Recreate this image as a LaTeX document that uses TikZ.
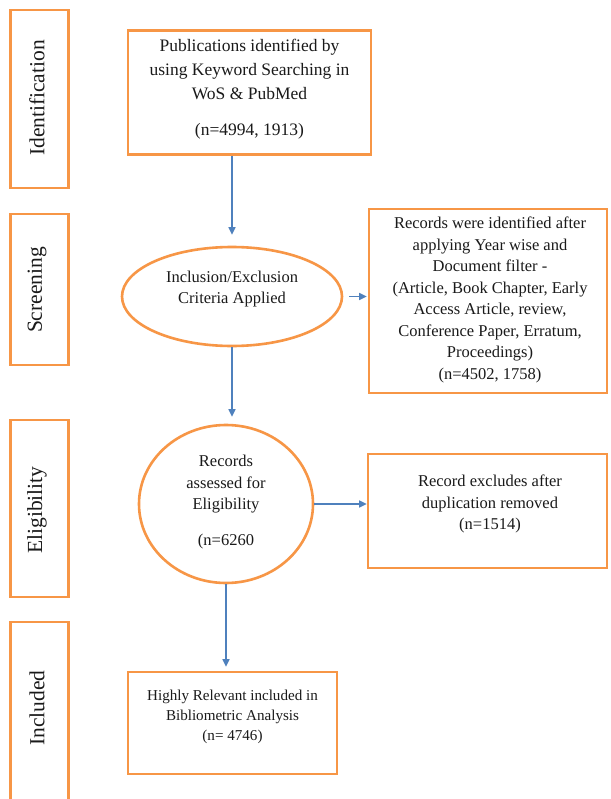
\documentclass[tikz,border=0pt]{standalone}
\usepackage{fontspec}
\setmainfont{Liberation Serif}
\usetikzlibrary{arrows.meta,shapes.geometric}
\definecolor{boxorange}{HTML}{F79646}
\definecolor{arrowblue}{HTML}{4F81BD}
\definecolor{txt}{HTML}{1A1A1A}
\begin{document}
\begin{tikzpicture}[x=1pt,y=-1pt,
  phase/.style={draw=boxorange,line width=2.6pt,minimum width=58pt,inner sep=0pt},
  phasetext/.style={rotate=90,text=txt,font=\fontsize{21.5}{24}\selectfont},
  obox/.style={draw=boxorange,line width=2.6pt,inner sep=0pt},
  oell/.style={draw=boxorange,line width=2.6pt,ellipse,inner sep=0pt},
  btext/.style={align=center,text=txt,font=\fontsize{16.5}{21.5}\selectfont},
  flow/.style={draw=arrowblue,line width=1.1pt,-{Triangle[length=7.5pt,width=7pt]}}]
\useasboundingbox (0,0) rectangle (610,799);
\fill[white] (0,0) rectangle (610,799);
% phase boxes
\node[phase,minimum height=178pt] (pid) at (39.5,99) {};
\node[phasetext] (lid) at (37,98) {Identification};
\node[phase,minimum height=151pt] (psc) at (39.5,289.5) {};
\node[phasetext] (lsc) at (37,290) {Screening};
\node[phase,minimum height=177pt] (pel) at (39.5,508.5) {};
\node[phasetext] (lel) at (37,510) {Eligibility};
\node[phase,minimum height=190pt] (pin) at (39.5,717) {};
\node[phasetext] (lin) at (37,708) {Included};
% box 1
\node[obox,minimum width=243pt,minimum height=124pt] (box1) at (249.5,92.5) {};
\node[btext,font=\fontsize{17.5}{24}\selectfont] (t1) at (249.5,89) {Publications identified by\\using Keyword Searching in\\WoS \& PubMed\\[12pt](n=4994, 1913)};
% ellipse 1
\node[oell,minimum width=220pt,minimum height=99pt] (ell) at (232,296.5) {};
\node[btext] (tell) at (232,289) {Inclusion/Exclusion\\Criteria Applied};
% box 2
\node[obox,minimum width=238pt,minimum height=184pt] (box2) at (488,301) {};
\node[btext] (t2) at (490,300) {Records were identified after\\applying Year wise and\\Document filter -\\(Article, Book Chapter, Early\\Access Article, review,\\Conference Paper, Erratum,\\Proceedings)\\(n=4502, 1758)};
% circle
\node[oell,minimum width=174pt,minimum height=158pt] (circ) at (226,504) {};
\node[btext] (tc) at (226,502) {Records\\assessed for\\Eligibility\\[14pt](n=6260};
% box 3
\node[obox,minimum width=239pt,minimum height=114pt] (box3) at (487.5,511) {};
\node[btext] (t3) at (490,504) {Record excludes after\\duplication removed\\(n=1514)};
% box 4
\node[obox,minimum width=209pt,minimum height=102pt] (box4) at (232.5,723) {};
\node[btext,font=\fontsize{15.1}{20}\selectfont] (t4) at (232.5,717) {Highly Relevant included in\\Bibliometric Analysis\\(n= 4746)};
% connectors
\draw[flow,shorten >=11pt] (box1.south -| ell.north) -- (ell.north);
\draw[flow,shorten <=6pt,shorten >=1pt] (ell.east) -- (box2.west |- ell.east);
\draw[flow,shorten >=7pt] (ell.south) -- (ell.south |- circ.north);
\draw[flow] (circ.east) -- (box3.west |- circ.east);
\draw[flow,shorten >=4pt] (circ.south) -- (circ.south |- box4.north);
\end{tikzpicture}
\end{document}
